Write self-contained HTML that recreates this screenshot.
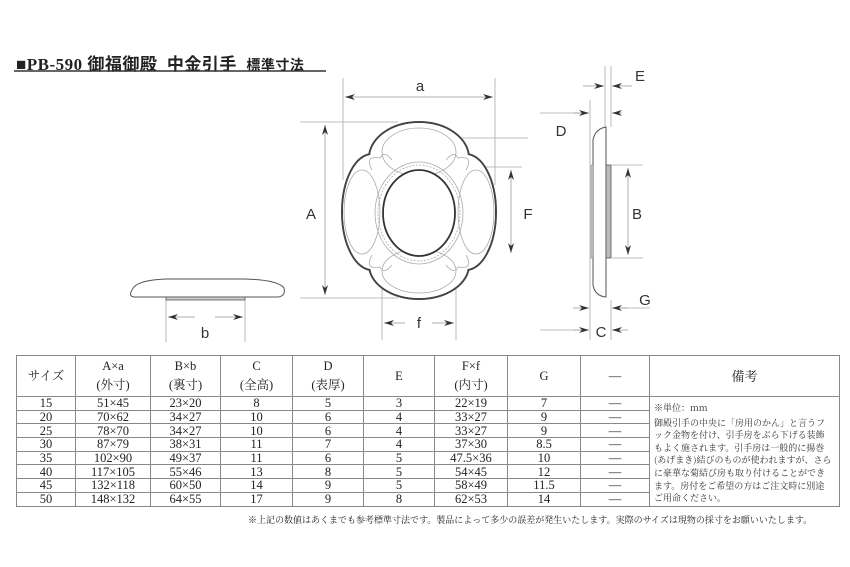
<!DOCTYPE html>
<html><head><meta charset="utf-8"><style>
body{margin:0;background:#fff;width:850px;height:567px;overflow:hidden;position:relative;font-family:"Liberation Serif","Noto Serif CJK SC","Noto Sans CJK JP",serif;color:#222}
.t{position:absolute;left:16px;top:50px;font-size:17px;letter-spacing:0.5px;white-space:nowrap;font-family:"Liberation Serif","Noto Sans CJK JP",serif;font-weight:bold}
table{position:absolute;left:16px;top:355px;border-collapse:collapse;font-size:12.5px;table-layout:fixed;width:823px}
td{border:1px solid #888;text-align:center;padding:0;height:12.7px;line-height:12px;overflow:hidden;white-space:nowrap}
.h td{height:40px;line-height:19px;font-size:12.5px}
.rm{position:absolute;left:654px;top:402px;width:178px;font-size:9px;line-height:12.6px;font-family:"Noto Serif CJK SC","Noto Sans CJK JP",serif;color:#333}
.fn{position:absolute;left:248px;top:513px;font-size:9px;white-space:nowrap;font-family:"Noto Serif CJK SC","Noto Sans CJK JP",serif}
</style></head><body>
<div class="t">■PB-590 御福御殿&nbsp; 中金引手&nbsp; <span style="font-size:14px">標準寸法</span></div>
<svg style="position:absolute;left:0;top:0" width="850" height="567" font-family="Liberation Sans Narrow, Liberation Sans, sans-serif">
<line x1="14" y1="71" x2="326" y2="71" stroke="#333" stroke-width="1.5"/>
<defs><marker id="ar" viewBox="0 0 10 6" refX="10" refY="3" markerWidth="10" markerHeight="6" orient="auto" markerUnits="userSpaceOnUse"><path d="M0,0 L10,3 L0,6 L3,3z" fill="#333"/></marker></defs>
<g stroke="#aaa" stroke-width="0.8" fill="none">
<line x1="343" y1="78" x2="343" y2="180"/><line x1="495" y1="78" x2="495" y2="185"/>
<line x1="300" y1="122" x2="398" y2="122"/><line x1="300" y1="298" x2="398" y2="298"/>
<line x1="430" y1="138" x2="528" y2="138"/><line x1="448" y1="167" x2="522" y2="167"/>
<line x1="382" y1="255" x2="382" y2="340"/><line x1="456" y1="255" x2="456" y2="340"/>
<line x1="166" y1="300" x2="166" y2="342"/><line x1="245" y1="300" x2="245" y2="342"/>
<line x1="605" y1="66" x2="605" y2="127"/><line x1="611" y1="66" x2="611" y2="127"/>
<line x1="590" y1="100" x2="590" y2="340"/><line x1="611" y1="300" x2="611" y2="340"/>
<line x1="612" y1="165" x2="643" y2="165"/><line x1="612" y1="258" x2="643" y2="258"/>
<line x1="540" y1="113" x2="588" y2="113"/><line x1="540" y1="330" x2="588" y2="330"/>
<line x1="613" y1="308" x2="650" y2="308"/>
</g>
<g stroke="#999" stroke-width="0.8" marker-end="url(#ar)" fill="none">
<line x1="420" y1="97" x2="345" y2="97"/><line x1="420" y1="97" x2="493" y2="97"/>
<line x1="325" y1="210" x2="325" y2="125"/><line x1="325" y1="210" x2="325" y2="295"/>
<line x1="511" y1="210" x2="511" y2="170"/><line x1="511" y1="210" x2="511" y2="253"/>
<line x1="405" y1="323" x2="384" y2="323"/><line x1="432" y1="323" x2="454" y2="323"/>
<line x1="195" y1="317" x2="168" y2="317"/><line x1="215" y1="317" x2="243" y2="317"/>
<line x1="628" y1="210" x2="628" y2="168"/><line x1="628" y1="210" x2="628" y2="255"/>
<line x1="583" y1="86" x2="604" y2="86"/><line x1="632" y1="86" x2="612" y2="86"/>
<line x1="573" y1="113" x2="589" y2="113"/><line x1="622" y1="113" x2="612" y2="113"/>
<line x1="573" y1="308" x2="589" y2="308"/><line x1="628" y1="308" x2="612" y2="308"/>
<line x1="573" y1="330" x2="589" y2="330"/><line x1="628" y1="330" x2="612" y2="330"/>
</g>
<g stroke="#444" stroke-width="2" fill="#fff">
<ellipse cx="419" cy="158" rx="50" ry="36"/><ellipse cx="419" cy="265" rx="50" ry="34"/>
<ellipse cx="372" cy="212" rx="30" ry="58"/><ellipse cx="466" cy="212" rx="30" ry="58"/>
<circle cx="385" cy="176" r="22"/><circle cx="453" cy="176" r="22"/>
<circle cx="385" cy="250" r="22"/><circle cx="453" cy="250" r="22"/>
</g>
<g fill="#fff" stroke="none">
<ellipse cx="419" cy="158" rx="49" ry="35"/><ellipse cx="419" cy="265" rx="49" ry="33"/>
<ellipse cx="372" cy="212" rx="29" ry="57"/><ellipse cx="466" cy="212" rx="29" ry="57"/>
<circle cx="385" cy="176" r="21"/><circle cx="453" cy="176" r="21"/>
<circle cx="385" cy="250" r="21"/><circle cx="453" cy="250" r="21"/>
<ellipse cx="419" cy="212" rx="55" ry="60"/>
</g>
<g stroke="#aaa" stroke-width="0.8" fill="none">
<ellipse cx="419" cy="152" rx="37" ry="24"/><ellipse cx="419" cy="271" rx="37" ry="22"/>
<ellipse cx="362" cy="212" rx="18" ry="42"/><ellipse cx="476" cy="212" rx="18" ry="42"/>
<path d="M372 170 q-8-15 8-12 q4-8 12 2 M466 170 q8-15 -8-12 q-4-8 -12 2 M372 255 q-8 15 8 12 q4 8 12-2 M466 255 q8 15 -8 12 q-4 8 -12-2"/>
<ellipse cx="419" cy="213" rx="41" ry="48" stroke-dasharray="2 1.5"/>
<ellipse cx="419" cy="213" rx="44" ry="51"/>
</g>
<ellipse cx="419" cy="213" rx="36" ry="43" stroke="#333" stroke-width="1.8" fill="#fff"/>
<path d="M134 287 Q140 280 166 279 L245 279 Q278 280 284 288 Q286 296 278 297 L134 297 Q127 296 134 287Z" fill="#fff" stroke="#555" stroke-width="1"/>
<rect x="166" y="297" width="79" height="3" fill="#ccc" stroke="#555" stroke-width="0.8"/>
<line x1="166" y1="279" x2="245" y2="279" stroke="#888" stroke-width="1.5"/>
<path d="M606 127 Q595 129 593 140 L593 285 Q595 296 606 297 Z" fill="#fff" stroke="#555" stroke-width="1"/>
<rect x="606" y="165" width="5" height="93" fill="#bbb" stroke="#555" stroke-width="0.8"/>
<rect x="591" y="165" width="2" height="93" fill="#ccc" stroke="#777" stroke-width="0.5"/>
<g font-size="15" fill="#333" text-anchor="middle">
<text x="420" y="91">a</text><text x="311" y="219">A</text><text x="528" y="219">F</text>
<text x="419" y="328">f</text><text x="205" y="338">b</text>
<text x="640" y="81">E</text><text x="561" y="136">D</text><text x="637" y="219">B</text>
<text x="645" y="305">G</text><text x="601" y="337">C</text>
</g>
</svg>
<table>
<colgroup><col style="width:59px"><col style="width:75px"><col style="width:70px"><col style="width:72px"><col style="width:71px"><col style="width:71px"><col style="width:73px"><col style="width:73px"><col style="width:69px"><col style="width:190px"></colgroup>
<tr class="h"><td>サイズ</td><td>A×a<br>(外寸)</td><td>B×b<br>(裏寸)</td><td>C<br>(全高)</td><td>D<br>(表厚)</td><td>E</td><td>F×f<br>(内寸)</td><td>G</td><td>―</td><td style="font-size:13px">備考</td></tr>
<tr><td>15</td><td>51×45</td><td>23×20</td><td>8</td><td>5</td><td>3</td><td>22×19</td><td>7</td><td>―</td><td rowspan="8"></td></tr>
<tr><td>20</td><td>70×62</td><td>34×27</td><td>10</td><td>6</td><td>4</td><td>33×27</td><td>9</td><td>―</td></tr>
<tr><td>25</td><td>78×70</td><td>34×27</td><td>10</td><td>6</td><td>4</td><td>33×27</td><td>9</td><td>―</td></tr>
<tr><td>30</td><td>87×79</td><td>38×31</td><td>11</td><td>7</td><td>4</td><td>37×30</td><td>8.5</td><td>―</td></tr>
<tr><td>35</td><td>102×90</td><td>49×37</td><td>11</td><td>6</td><td>5</td><td>47.5×36</td><td>10</td><td>―</td></tr>
<tr><td>40</td><td>117×105</td><td>55×46</td><td>13</td><td>8</td><td>5</td><td>54×45</td><td>12</td><td>―</td></tr>
<tr><td>45</td><td>132×118</td><td>60×50</td><td>14</td><td>9</td><td>5</td><td>58×49</td><td>11.5</td><td>―</td></tr>
<tr><td>50</td><td>148×132</td><td>64×55</td><td>17</td><td>9</td><td>8</td><td>62×53</td><td>14</td><td>―</td></tr>
</table>
<div class="rm">※単位：mm<div style="margin-top:2px">御殿引手の中央に「房用のかん」と言うフック金物を付け、引手房をぶら下げる装飾もよく施されます。引手房は一般的に揚巻(あげまき)結びのものが使われますが、さらに豪華な菊結び房も取り付けることができます。房付をご希望の方はご注文時に別途ご用命ください。</div></div>
<div class="fn">※上記の数値はあくまでも参考標準寸法です。製品によって多少の誤差が発生いたします。実際のサイズは現物の採寸をお願いいたします。</div>
</body></html>
